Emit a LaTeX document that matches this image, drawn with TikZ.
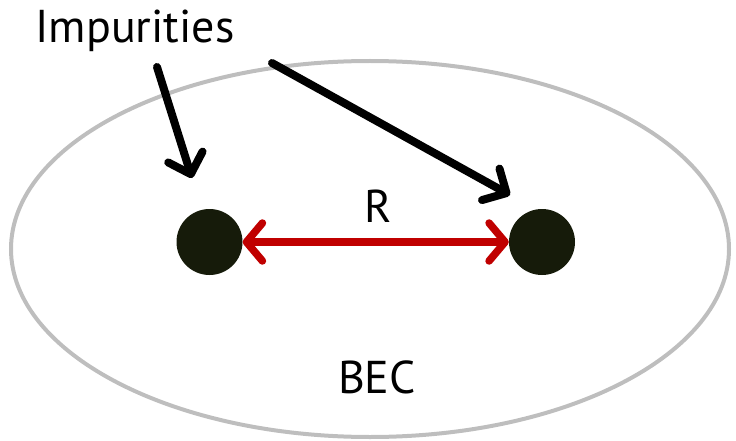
\documentclass[tikz,border=0pt]{standalone}
\usepackage{fontspec}
\setmainfont{PT Sans}
\usetikzlibrary{arrows.meta}
\definecolor{dotc}{RGB}{22,27,10}
\definecolor{redc}{RGB}{192,0,0}
\definecolor{ellc}{RGB}{190,190,190}
\begin{document}
\begin{tikzpicture}[x=1pt,y=-1pt,
  lbl/.style={font=\fontsize{46}{50}\selectfont, inner sep=0pt, anchor=base},
  dotn/.style={circle, fill=dotc, minimum size=66pt, inner sep=0pt},
  blk/.style={line width=8pt, line cap=round, -{Straight Barb[length=18pt,width=36pt,line cap=round,line join=round]}},
  redarr/.style={redc, line width=7.5pt, {Straight Barb[length=16pt,width=38pt,line cap=round,line join=round]}-{Straight Barb[length=16pt,width=38pt,line cap=round,line join=round]}}
]
\useasboundingbox (0,0) rectangle (736,441);
\draw[ellc, line width=4pt] (370,249) ellipse [x radius=359pt, y radius=188pt];
\node[dotn] (L) at (209.5,242) {};
\node[dotn] (Rd) at (542,242) {};
\draw[redarr] (L.east) -- (Rd.west);
\node[lbl] (R) at (378,222) {R};
\node[lbl] (bec) at (377,393) {BEC};
\node[lbl] (imp) at (135,43) {Impurities};
\coordinate (s1) at (157,67);
\coordinate (t1) at (192,178);
\coordinate (s2) at (272,63);
\coordinate (t2) at (510,195);
\draw[blk] (s1) -- (t1);
\draw[blk] (s2) -- (t2);
\end{tikzpicture}
\end{document}
